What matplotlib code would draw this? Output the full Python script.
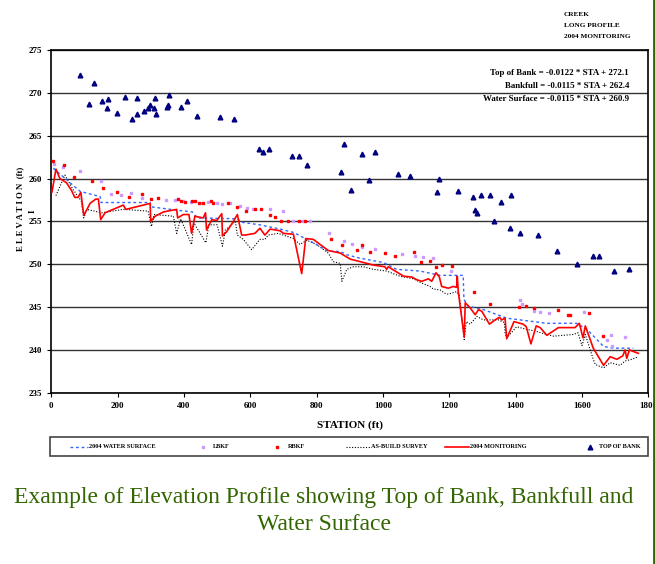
import numpy as np
import matplotlib.pyplot as plt
from matplotlib.lines import Line2D
from matplotlib.patches import Rectangle

# Top of bank (triangles)
tob_sta = [87, 115, 130, 153, 169, 171, 197, 223, 243, 258, 258, 280, 291, 298, 309, 314, 316,
           348, 352, 356, 391, 409, 439, 510, 550, 625, 638, 657, 726, 746, 771,
           874, 883, 905, 937, 958, 975, 1046, 1081, 1162, 1170, 1225, 1270, 1277, 1284, 1296,
           1324, 1334, 1356, 1384, 1385, 1413, 1468, 1525, 1586, 1634, 1650, 1696, 1741]
tob_elev = [272.1, 268.7, 271.2, 269.0, 268.2, 269.3, 267.6, 269.5, 267.0, 269.4, 267.5, 267.9, 268.2, 268.6, 268.2, 269.4, 267.5,
            268.3, 268.6, 269.8, 268.4, 269.1, 267.3, 267.2, 267.0, 263.4, 263.1, 263.5, 262.6, 262.6, 261.6,
            260.8, 264.0, 258.7, 262.9, 259.8, 263.1, 260.5, 260.3, 258.4, 260.0, 258.6, 257.8, 256.3, 256.0, 258.1,
            258.1, 255.1, 257.3, 254.2, 258.1, 253.6, 253.4, 251.5, 250.0, 250.9, 250.9, 249.2, 249.4]

# 2004 monitoring (red line)
mon_sta = [2, 14, 26, 46, 61, 71, 81, 89, 98, 117, 134, 142, 149, 162, 217, 225, 298, 300, 313, 338,
           378, 381, 398, 415, 423, 433, 458, 465, 468, 484, 499, 514, 516, 529, 549, 561, 574, 584,
           614, 629, 644, 660, 690, 700, 730, 755, 767, 790, 835, 871, 901, 941, 971, 1006, 1011, 1016,
           1062, 1087, 1101, 1117, 1137, 1147, 1160, 1170, 1177, 1197, 1212, 1222, 1224, 1227, 1245,
           1248, 1263, 1278, 1288, 1298, 1321, 1338, 1351, 1358, 1368, 1373, 1395, 1423, 1432, 1446,
           1462, 1474, 1494, 1529, 1579, 1592, 1603, 1610, 1634, 1665, 1685, 1705, 1723, 1730, 1735,
           1743, 1755, 1770]
mon_elev = [258.4, 261.1, 260.0, 259.5, 258.6, 257.8, 257.8, 258.4, 255.7, 257.1, 257.6, 257.6, 255.2, 256.0, 256.9, 256.4, 257.1, 255.0, 255.6, 256.1,
            256.4, 255.4, 255.8, 255.8, 253.6, 255.6, 255.4, 256.0, 254.0, 255.2, 255.1, 255.9, 253.3, 253.8, 255.0, 255.8, 253.4, 253.4,
            253.6, 254.2, 253.4, 254.1, 253.9, 253.6, 253.5, 248.9, 253.0, 252.9, 251.6, 251.3, 250.6, 250.2, 249.9, 249.7, 249.4, 249.7,
            248.6, 248.5, 248.2, 248.0, 248.3, 248.0, 249.0, 248.5, 247.4, 247.2, 247.4, 247.3, 248.6, 246.8, 241.5,
            245.5, 244.9, 244.1, 244.7, 244.5, 243.0, 243.5, 243.8, 243.5, 243.7, 241.3, 243.3, 243.0, 242.7, 240.7,
            242.8, 242.6, 241.7, 242.6, 242.6, 243.1, 241.4, 242.8, 240.2, 238.2, 239.2, 238.9, 239.3, 240.0, 239.0,
            240.0, 239.8, 239.6]

# 2004 water surface (blue dotted)
ws_sta = [6, 87, 147, 150, 298, 300, 380, 425, 440, 562, 573, 628, 690, 731, 790, 835, 871, 891, 931,
          1001, 1041, 1112, 1172, 1227, 1242, 1244, 1257, 1303, 1373, 1494, 1584, 1615, 1665, 1695, 1755]
ws_elev = [261.2, 258.5, 257.9, 257.2, 257.2, 256.7, 256.3, 256.1, 255.4, 255.3, 254.9, 254.6, 254.1, 253.7, 252.5, 251.5, 251.5, 251.1, 250.7,
           250.2, 249.4, 249.2, 248.7, 248.7, 248.7, 245.9, 245.1, 244.7, 243.7, 243.1, 243.1, 242.4, 240.4, 240.2, 240.2]

# As-build survey (black dotted)
ab_sta = [14, 41, 66, 90, 98, 107, 152, 217, 292, 302, 310, 368, 378, 390, 423, 430, 466, 475, 500, 516,
          525, 555, 561, 579, 604, 629, 644, 654, 684, 730, 750, 770, 800, 835, 850, 871, 876, 891, 911,
          941, 971, 1011, 1051, 1092, 1117, 1142, 1152, 1172, 1187, 1197, 1222, 1230, 1245, 1251, 1263,
          1283, 1303, 1348, 1366, 1368, 1373, 1403, 1433, 1459, 1484, 1514, 1544, 1574, 1588, 1600, 1610,
          1634, 1640, 1665, 1685, 1715, 1730, 1750, 1770]
ab_elev = [258.0, 260.4, 258.7, 257.4, 255.4, 256.4, 256.0, 256.4, 256.2, 254.4, 255.8, 255.6, 253.6, 255.3, 252.3, 254.8, 252.5, 254.6, 254.6, 252.1,
           254.0, 255.0, 253.4, 252.9, 251.7, 252.9, 252.9, 253.4, 253.6, 253.0, 252.3, 252.8, 252.3, 251.3, 250.3, 250.1, 248.0, 249.4, 249.7,
           249.7, 249.4, 249.2, 248.6, 248.3, 247.8, 247.4, 247.1, 247.0, 246.6, 246.5, 246.8, 246.4, 241.2, 243.3, 243.0,
           243.9, 243.5, 243.5, 243.2, 242.0, 241.4, 242.7, 242.4, 242.2, 241.9, 241.6, 241.7, 241.8, 242.0, 240.5, 241.8,
           238.9, 238.3, 237.9, 238.5, 238.2, 238.7, 238.9, 239.2]

# Right bankfull (red dots)
rbkf_sta = [6, 39, 69, 122, 155, 197, 235, 275, 301, 323, 381, 390, 403, 423, 433, 446, 458, 481, 489, 534,
            559, 586, 614, 631, 660, 675, 692, 715, 746, 766, 843, 876, 921, 936, 961, 1006, 1036, 1095, 1115,
            1142, 1160, 1177, 1207, 1275, 1323, 1410, 1432, 1456, 1527, 1559, 1565, 1620, 1662]
rbkf_elev = [262.0, 261.6, 260.2, 259.7, 258.9, 258.4, 257.8, 258.2, 257.6, 257.7, 257.6, 257.4, 257.3, 257.4, 257.4, 257.2, 257.1, 257.4, 257.2, 257.2,
             256.7, 256.2, 256.5, 256.4, 255.8, 255.5, 255.1, 255.0, 255.0, 255.0, 252.9, 252.2, 251.6, 252.2, 251.4, 251.3, 251.0, 251.4, 250.2,
             250.4, 249.7, 249.9, 249.8, 246.8, 245.3, 245.0, 245.1, 244.9, 244.6, 244.1, 244.1, 244.3, 241.6]

# Left bankfull (purple dots)
lbkf_sta = [8, 34, 87, 150, 180, 210, 239, 272, 346, 372, 396, 420, 449, 472, 499, 515, 539, 568, 590, 609,
            660, 698, 730, 760, 781, 838, 881, 906, 936, 976, 1057, 1096, 1122, 1150, 1204, 1413, 1420, 1455,
            1472, 1500, 1606, 1675, 1688, 1690, 1730]
lbkf_elev = [261.7, 261.4, 260.9, 259.7, 258.2, 258.1, 258.3, 257.7, 257.5, 257.5, 257.4, 257.3, 257.2, 257.3, 257.1, 257.0, 257.1, 256.8, 256.6, 256.4,
             256.4, 256.2, 255.1, 255.1, 255.0, 253.6, 252.7, 252.4, 252.0, 251.8, 251.2, 250.9, 250.8, 250.7, 249.2, 245.8, 245.4, 244.5,
             244.4, 244.3, 244.4, 241.2, 241.7, 240.5, 241.5]

plt.rcParams['font.family'] = 'Liberation Serif'

W, H = 655, 564
fig = plt.figure(figsize=(6.55, 5.64), dpi=100)
ax = fig.add_axes([0.0783, 0.3037, 0.9115, 0.6076])

ws_style = dict(color='#3366ff', ls=(0, (2, 2)), lw=1.0)
ab_style = dict(color='black', ls=(0, (1, 1.5)), lw=0.8)
mon_style = dict(color='red', lw=1.2)
lb_style = dict(ls='none', marker='s', ms=2, color='#cc99ff')
rb_style = dict(ls='none', marker='s', ms=2, color='red')
tob_style = dict(ls='none', marker='^', ms=3.4, color='#000080')

ax.plot(ab_sta, ab_elev, zorder=2, **ab_style)
ax.plot(ws_sta, ws_elev, zorder=3, **ws_style)
ax.plot(mon_sta, mon_elev, zorder=4, **mon_style)
ax.plot(lbkf_sta, lbkf_elev, zorder=5, **lb_style)
ax.plot(rbkf_sta, rbkf_elev, zorder=5, **rb_style)
ax.plot(tob_sta, tob_elev, zorder=6, **tob_style)

ax.set_xlim(0, 1800)
ax.set_ylim(235, 275)
ax.set_xticks(range(0, 1801, 200))
ax.set_yticks(range(235, 276, 5))
ax.yaxis.grid(True, color='#333333', lw=1)
ax.set_axisbelow(True)
for lab in ax.get_xticklabels() + ax.get_yticklabels():
    lab.set_fontweight('bold')
ax.tick_params(labelsize=6.5, length=3, width=0.8)
for s in ax.spines.values():
    s.set_linewidth(1.2)

ax.set_xlabel('STATION (ft)', fontsize=8, fontweight='bold', labelpad=8)
fig.text(20 / W, 1 - 209 / H, 'E L E V A T I O N  (ft)', rotation=90, fontsize=6.3,
         fontweight='bold', ha='center', va='center')
fig.text(33 / W, 1 - 211 / H, 'I', rotation=90, fontsize=6.5, fontweight='bold', ha='center', va='center')

eqs = ['Top of Bank = -0.0122 * STA + 272.1',
       'Bankfull = -0.0115 * STA + 262.4',
       'Water Surface = -0.0115 * STA + 260.9']
for i, t in enumerate(eqs):
    fig.text(629 / W, 1 - (73 + 13 * i) / H, t, fontsize=6.4, fontweight='bold', ha='right', va='center')

for i, t in enumerate(['CREEK', 'LONG PROFILE', '2004 MONITORING']):
    fig.text(564 / W, 1 - (14 + 11.3 * i) / H, t, fontsize=5.2, fontweight='bold', ha='left', va='center')

# legend box drawn by hand to follow the uneven spacing of the original
fig.add_artist(Rectangle((50 / W, 1 - 456 / H), 598 / W, 19 / H, transform=fig.transFigure,
                         facecolor='white', edgecolor='#444444', lw=1.2))
ly = 1 - 446.5 / H
entries = [('line', ws_style, 70, 88, 89, '2004 WATER SURFACE'),
           ('mark', lb_style, 203, 203, 213, 'LBKF'),
           ('mark', rb_style, 277, 277, 288, 'RBKF'),
           ('line', ab_style, 346, 370, 371, 'AS-BUILD SURVEY'),
           ('line', mon_style, 445, 469, 470, '2004 MONITORING'),
           ('mark', tob_style, 590, 590, 599, 'TOP OF BANK')]
for kind, st, x0, x1, xt, lab in entries:
    if kind == 'line':
        fig.add_artist(Line2D([x0 / W, x1 / W], [ly, ly], transform=fig.transFigure, **st))
    else:
        fig.add_artist(Line2D([x0 / W], [ly], transform=fig.transFigure, **st))
    fig.text(xt / W, ly, lab, fontsize=4.5, fontweight='bold', ha='left', va='center')

fig.text(324 / W, 1 - 498 / H, 'Example of Elevation Profile showing Top of Bank, Bankfull and',
         fontsize=17, color='#336600', ha='center', va='center')
fig.text(324 / W, 1 - 524 / H, 'Water Surface',
         fontsize=17, color='#336600', ha='center', va='center')

fig.add_artist(Line2D([0.998, 0.998], [0, 1], transform=fig.transFigure, color='#336600', lw=2))

fig.savefig('out.png', dpi=100)
